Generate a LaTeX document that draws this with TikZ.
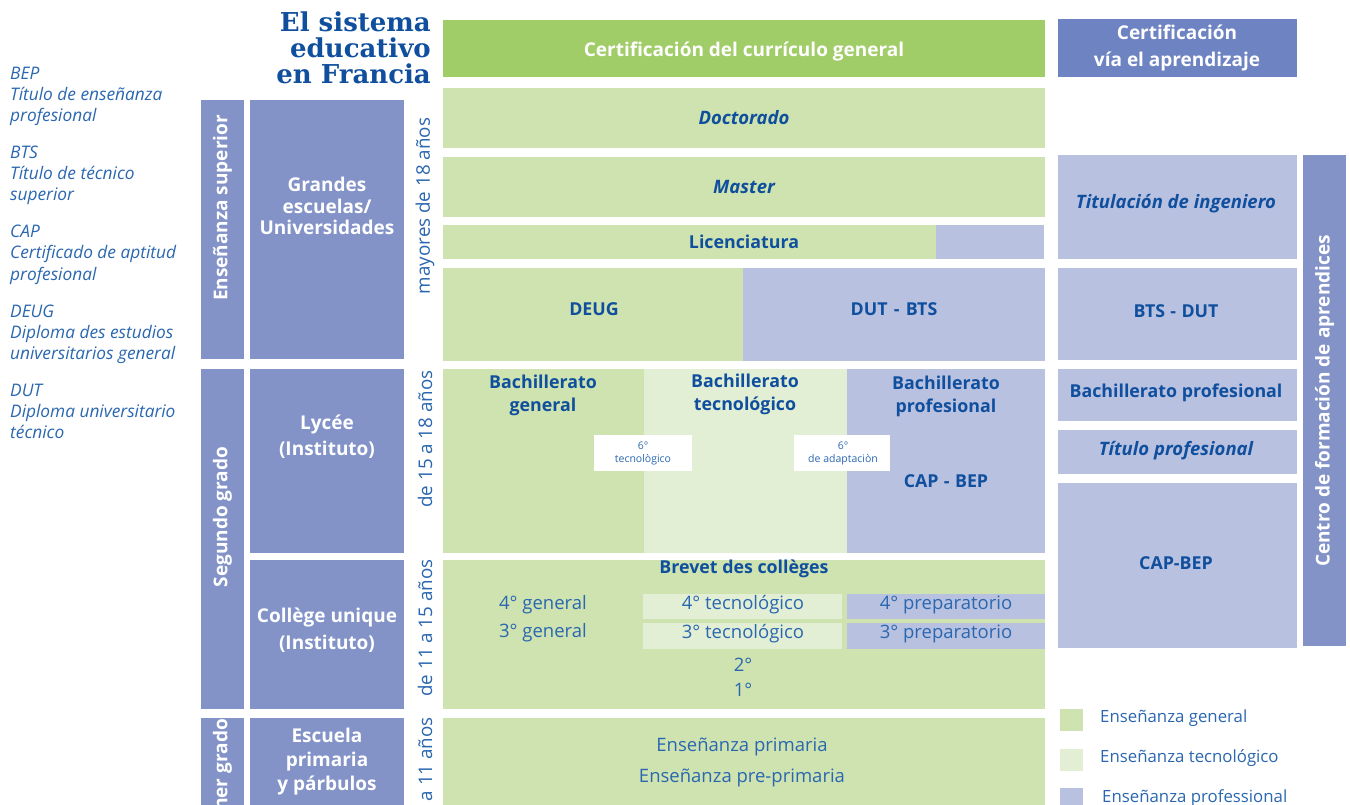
\documentclass[tikz,border=0pt]{standalone}
\usepackage{fontspec}
\setmainfont{Open Sans}
\newfontfamily\titlefont{DejaVu Serif}
\definecolor{genG}{HTML}{CEE3B0}
\definecolor{topG}{HTML}{A1CD69}
\definecolor{techG}{HTML}{E2EFD5}
\definecolor{profL}{HTML}{B8C1E0}
\definecolor{darkB}{HTML}{8393C8}
\definecolor{headB}{HTML}{6E83C2}
\definecolor{labB}{HTML}{0F4F9E}
\definecolor{regB}{HTML}{2A67B0}
\begin{document}
\begin{tikzpicture}[x=1pt,y=-1pt,
  lbl/.style={text=labB, font=\fontsize{17.8}{23}\selectfont\bfseries, align=center, inner sep=0pt},
  lbli/.style={text=labB, font=\fontsize{18.5}{23}\selectfont\bfseries\itshape, align=center, inner sep=0pt},
  wlbl/.style={text=white, font=\fontsize{19}{21.5}\selectfont\bfseries, align=center, inner sep=0pt},
  reg/.style={text=regB, font=\fontsize{18.5}{21}\selectfont, inner sep=0pt},
  age/.style={text=regB, rotate=90, font=\fontsize{18.8}{21}\selectfont, inner sep=0pt},
  legl/.style={text=regB, font=\fontsize{17.3}{21}\selectfont\itshape, anchor=base west, inner sep=0pt},
  legr/.style={text=regB, font=\fontsize{16.8}{18}\selectfont, anchor=west, inner sep=0pt},
  small/.style={text=regB, font=\fontsize{10.5}{13}\selectfont, align=center, inner sep=0pt}
]
\clip (0,0) rectangle (1350,805);
\fill[white] (0,0) rectangle (1350,805);

% ---------- title ----------
\node[anchor=base east, inner sep=0pt, text=labB,
  font=\titlefont\bfseries\fontsize{26}{26}\selectfont] (t1) at (431,32) {El sistema};
\node[anchor=base east, inner sep=0pt, text=labB,
  font=\titlefont\bfseries\fontsize{26}{26}\selectfont] (t2) at (431,58) {educativo};
\node[anchor=base east, inner sep=0pt, text=labB,
  font=\titlefont\bfseries\fontsize{26}{26}\selectfont] (t3) at (431,84) {en Francia};

% ---------- left glossary ----------
\node[legl] (g1a) at (10,80) {BEP};
\node[legl] (g1b) at (10,101) {Título de enseñanza};
\node[legl] (g1c) at (10,122) {profesional};
\node[legl] (g2a) at (10,159) {BTS};
\node[legl] (g2b) at (10,180) {Título de técnico};
\node[legl] (g2c) at (10,201) {superior};
\node[legl] (g3a) at (10,238) {CAP};
\node[legl] (g3b) at (10,259) {Certificado de aptitud};
\node[legl] (g3c) at (10,280) {profesional};
\node[legl] (g4a) at (10,317) {DEUG};
\node[legl] (g4b) at (10,338) {Diploma des estudios};
\node[legl] (g4c) at (10,359) {universitarios general};
\node[legl] (g5a) at (10,396) {DUT};
\node[legl] (g5b) at (10,417) {Diploma universitario};
\node[legl] (g5c) at (10,438) {técnico};

% ---------- left level columns ----------
\fill[darkB] (201,100) rectangle (244,359);
\fill[darkB] (250,100) rectangle (404,359);
\fill[darkB] (201,369) rectangle (244,709);
\fill[darkB] (250,369) rectangle (404,553);
\fill[darkB] (250,560) rectangle (404,709);
\fill[darkB] (201,718) rectangle (244,810);
\fill[darkB] (250,718) rectangle (404,810);

\node[wlbl, rotate=90] (sup) at (222.5,208) {Enseñanza superior};
\node[wlbl, rotate=90] (seg) at (222.5,517) {Segundo grado};
\node[wlbl, rotate=90, anchor=east] (pri) at (222.5,719) {Primer grado};

\node[wlbl] (gra) at (327,206) {Grandes\\escuelas/\\Universidades};
\node[wlbl, font=\fontsize{19}{26}\selectfont\bfseries] (lyc) at (327,437) {Lycée\\(Instituto)};
\node[wlbl, font=\fontsize{19}{27}\selectfont\bfseries] (col) at (327,630) {Collège unique\\(Instituto)};
\node[wlbl, font=\fontsize{19}{24}\selectfont\bfseries] (esc) at (327,762) {Escuela\\primaria\\y párbulos};

% ---------- age labels ----------
\node[age] (a1) at (425,206) {mayores de 18 años};
\node[age] (a2) at (425,439) {de 15 a 18 años};
\node[age] (a3) at (425,628) {de 11 a 15 años};
\node[age, anchor=east] (a4) at (425,717) {de 3 a 11 años};

% ---------- general curriculum ----------
\fill[topG] (443,20) rectangle (1045,77);
\node[text=white, font=\fontsize{19}{21}\selectfont\bfseries, inner sep=0pt] (cg) at (744,52) {Certificación del currículo general};

\fill[genG] (443,88) rectangle (1045,148);
\node[lbli] (doc) at (744,118) {Doctorado};
\fill[genG] (443,157) rectangle (1045,217);
\node[lbli] (mas) at (744,187) {Master};
\fill[genG] (443,225) rectangle (936,259);
\fill[profL] (936,225) rectangle (1044,259);
\node[lbl] (lic) at (744,242) {Licenciatura};
\fill[genG] (443,268) rectangle (743,361);
\fill[profL] (743,268) rectangle (1045,361);
\node[lbl] (deug) at (594,309) {DEUG};
\node[lbl] (dut) at (894,309) {DUT\hspace{0.35em}-\hspace{0.35em}BTS};

% Lycée
\fill[genG] (443,369) rectangle (644,553);
\fill[techG] (644,369) rectangle (847,553);
\fill[profL] (847,369) rectangle (1045,553);
\node[lbl] (bg) at (543,395) {Bachillerato\\general};
\node[lbl] (bt) at (745,394) {Bachillerato\\tecnológico};
\node[lbl] (bp) at (946,396) {Bachillerato\\profesional};
\node[lbl] (capbep) at (946,481) {CAP\hspace{0.3em}-\hspace{0.3em}BEP};
\fill[white] (594,435) rectangle (692,471);
\node[small] (s1) at (643,453) {6°\\tecnològico};
\fill[white] (794,435) rectangle (890,471);
\node[small] (s2) at (843,453) {6°\\de adaptaciòn};

% Collège
\fill[genG] (443,560) rectangle (1045,709);
\node[lbl] (brev) at (744,569) {Brevet des collèges};
\fill[techG] (643,594) rectangle (842,619);
\fill[profL] (847,594) rectangle (1045,619);
\fill[techG] (643,623) rectangle (842,649);
\fill[profL] (847,623) rectangle (1045,649);
\node[reg] (g4) at (543,605) {4° general};
\node[reg] (g3) at (543,633) {3° general};
\node[reg] (t4) at (743,605) {4° tecnológico};
\node[reg] (t3) at (743,634) {3° tecnológico};
\node[reg] (p4) at (946,605) {4° preparatorio};
\node[reg] (p3) at (946,634) {3° preparatorio};
\node[reg] (c2) at (743,665) {2°};
\node[reg] (c1) at (743,690) {1°};

% Primaria
\fill[genG] (443,718) rectangle (1045,810);
\node[reg] (ep) at (742,747) {Enseñanza primaria};
\node[reg] (epp) at (742,778) {Enseñanza pre-primaria};

% ---------- apprenticeship ----------
\fill[headB] (1058,19) rectangle (1297,77);
\node[wlbl, font=\fontsize{19}{27}\selectfont\bfseries] (ca) at (1177,48) {Certificación\\vía el aprendizaje};
\fill[profL] (1058,155) rectangle (1297,259);
\node[lbli] (ing) at (1176,204) {Titulación de ingeniero};
\fill[profL] (1058,268) rectangle (1297,360);
\node[lbl] (bts) at (1176,311) {BTS\hspace{0.3em}-\hspace{0.3em}DUT};
\fill[profL] (1058,369) rectangle (1297,421);
\node[lbl] (bpr) at (1176,393) {Bachillerato profesional};
\fill[profL] (1058,430) rectangle (1297,474);
\node[lbli] (tp) at (1176,451) {Título profesional};
\fill[profL] (1058,483) rectangle (1297,648);
\node[lbl] (cb) at (1176,563) {CAP-BEP};
\fill[darkB] (1303,155) rectangle (1346,646);
\node[wlbl, rotate=90] (cfa) at (1324.5,401) {Centro de formación de aprendices};

% ---------- legend ----------
\fill[genG] (1060,709) rectangle (1083,731);
\node[legr] (l1) at (1100,718) {Enseñanza general};
\fill[techG] (1060,749) rectangle (1083,771);
\node[legr] (l2) at (1100,758) {Enseñanza tecnológico};
\fill[profL] (1060,788) rectangle (1083,810);
\node[legr] (l3) at (1102,798) {Enseñanza professional};
\end{tikzpicture}
\end{document}
